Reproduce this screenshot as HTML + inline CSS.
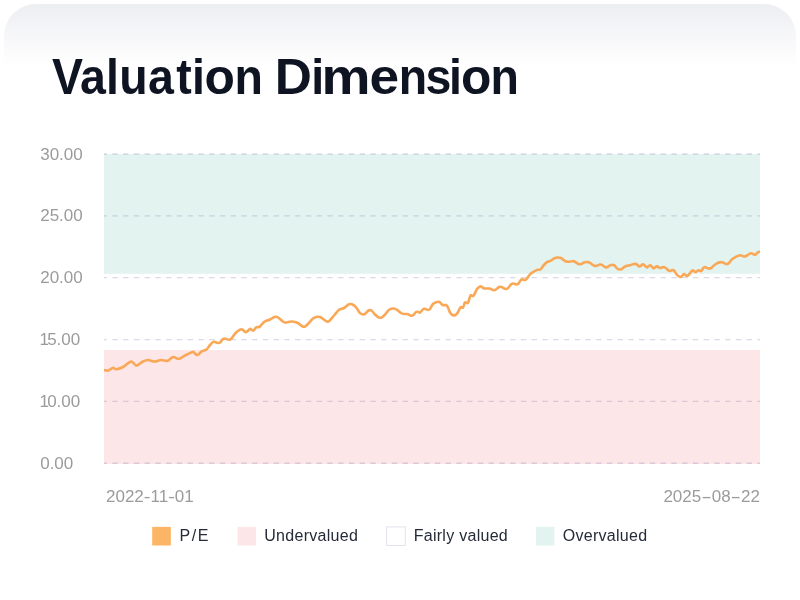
<!DOCTYPE html>
<html><head><meta charset="utf-8">
<title>Valuation Dimension</title>
<style>
html,body{margin:0;padding:0;background:#fff;}
body{width:800px;height:600px;overflow:hidden;position:relative;font-family:"Liberation Sans",sans-serif;}
.card{position:absolute;left:4px;top:4px;width:792px;height:596px;border-radius:32px 32px 0 0;background:linear-gradient(#edeef2 0px,#ffffff 62px);}
svg{position:absolute;left:0;top:0;}
.ttl{font-size:46.5px;font-weight:700;fill:#0f1422;}
.ax{font-size:17px;fill:#9b9b9b;}
.lg{font-size:16px;fill:#262b39;}
</style></head><body>
<div class="card"></div>
<svg width="800" height="600" viewBox="0 0 800 600">
<defs><clipPath id="plot"><rect x="104" y="140" width="656" height="340"/></clipPath></defs>
<rect x="104" y="154" width="656" height="119.8" fill="#e3f3ef"/>
<rect x="104" y="350" width="656" height="114" fill="#fde6e8"/>
<g stroke="#7f7fae" stroke-opacity="0.28" stroke-width="1.3" stroke-dasharray="5.4 5.35" clip-path="url(#plot)">
<line x1="101.6" x2="760" y1="154.00" y2="154.00"/>
<line x1="101.6" x2="760" y1="215.85" y2="215.85"/>
<line x1="101.6" x2="760" y1="277.70" y2="277.70"/>
<line x1="101.6" x2="760" y1="339.55" y2="339.55"/>
<line x1="101.6" x2="760" y1="401.40" y2="401.40"/>
<line x1="101.6" x2="760" y1="463.25" y2="463.25"/>
</g>
<path clip-path="url(#plot)" d="M104.0 370.0 C104.8 370.1 107.0 370.9 108.5 370.5 C110.0 370.1 111.8 368.0 113.0 367.8 C114.2 367.6 114.3 369.3 116.0 369.2 C117.7 369.1 120.7 368.2 123.0 367.0 C125.3 365.8 128.4 362.6 130.0 361.8 C131.6 361.0 131.6 361.6 132.5 362.2 C133.4 362.8 134.7 364.7 135.5 365.2 C136.3 365.7 136.2 365.8 137.5 365.2 C138.8 364.6 141.2 362.4 143.0 361.5 C144.8 360.6 146.1 360.0 148.0 360.0 C149.9 360.0 152.3 361.5 154.5 361.5 C156.7 361.5 159.0 360.1 161.0 360.0 C163.0 359.9 165.2 361.0 166.5 361.0 C167.8 361.0 168.0 360.6 169.0 360.0 C170.0 359.4 171.6 357.7 172.5 357.2 C173.4 356.7 173.4 356.9 174.5 357.2 C175.6 357.5 177.2 359.1 179.0 358.8 C180.8 358.5 182.8 356.6 185.0 355.5 C187.2 354.4 191.0 352.5 192.5 352.0 C194.0 351.5 193.3 352.0 194.0 352.5 C194.7 353.0 195.8 354.5 196.5 354.8 C197.2 355.1 197.6 355.1 198.5 354.5 C199.4 353.9 200.7 352.0 202.0 351.2 C203.3 350.4 205.2 350.5 206.5 349.5 C207.8 348.5 208.9 346.2 210.0 345.0 C211.1 343.8 212.2 342.5 213.0 342.0 C213.8 341.5 214.1 341.8 215.0 342.0 C215.9 342.2 217.6 343.0 218.5 343.0 C219.4 343.0 219.8 342.9 220.5 342.2 C221.2 341.5 222.2 339.6 223.0 339.0 C223.8 338.4 224.0 338.4 225.0 338.5 C226.0 338.6 227.9 339.8 229.0 339.8 C230.1 339.8 230.4 339.6 231.5 338.5 C232.6 337.4 234.1 334.5 235.5 333.0 C236.9 331.5 238.9 330.2 240.0 329.6 C241.1 329.0 241.1 329.1 242.0 329.5 C242.9 329.9 244.7 331.6 245.5 332.0 C246.3 332.4 246.2 332.1 247.0 331.6 C247.8 331.1 249.3 329.4 250.0 329.0 C250.7 328.6 250.6 328.9 251.0 329.2 C251.4 329.4 252.0 330.4 252.5 330.5 C253.0 330.6 253.3 330.6 254.0 330.0 C254.7 329.4 255.6 327.7 256.5 327.2 C257.4 326.7 258.3 327.6 259.5 326.8 C260.7 326.0 262.3 323.5 263.5 322.5 C264.7 321.5 265.4 321.3 266.5 320.8 C267.6 320.3 268.8 320.1 270.0 319.5 C271.2 318.9 272.8 317.6 274.0 317.2 C275.2 316.8 275.9 316.4 277.5 317.2 C279.1 318.0 282.0 321.1 283.5 322.0 C285.0 322.9 285.2 322.6 286.5 322.5 C287.8 322.4 289.4 321.6 291.0 321.5 C292.6 321.4 294.7 321.8 296.0 322.2 C297.3 322.6 297.9 323.1 299.0 323.8 C300.1 324.5 301.5 326.1 302.5 326.5 C303.5 326.9 304.1 326.9 305.0 326.5 C305.9 326.1 306.7 325.3 308.0 324.0 C309.3 322.7 311.5 319.7 313.0 318.5 C314.5 317.3 315.8 317.1 317.0 316.8 C318.2 316.6 319.2 316.8 320.0 317.0 C320.8 317.2 320.9 317.5 322.0 318.2 C323.1 318.9 325.3 320.7 326.5 321.2 C327.7 321.7 327.8 322.1 329.0 321.2 C330.2 320.2 332.3 317.4 334.0 315.5 C335.7 313.6 337.3 311.1 339.0 309.8 C340.7 308.6 342.4 308.9 344.0 308.0 C345.6 307.1 347.2 305.1 348.5 304.5 C349.8 303.9 350.7 303.8 352.0 304.3 C353.3 304.9 355.2 306.3 356.5 307.8 C357.8 309.3 358.9 312.1 360.0 313.2 C361.1 314.3 362.1 314.4 363.0 314.5 C363.9 314.6 364.6 314.2 365.5 313.5 C366.4 312.8 367.5 311.0 368.5 310.5 C369.5 310.0 370.4 309.8 371.5 310.5 C372.6 311.2 373.8 313.3 375.0 314.5 C376.2 315.7 377.8 317.0 379.0 317.5 C380.2 318.0 380.8 318.0 382.0 317.3 C383.2 316.6 384.8 314.6 386.0 313.3 C387.2 312.0 388.2 310.3 389.5 309.5 C390.8 308.7 392.2 308.4 393.5 308.5 C394.8 308.6 395.8 309.1 397.0 309.8 C398.2 310.6 399.8 312.3 401.0 313.0 C402.2 313.7 403.3 313.8 404.5 314.0 C405.7 314.2 406.9 313.9 408.0 314.2 C409.1 314.5 410.1 315.7 411.0 315.8 C411.9 315.9 412.7 315.6 413.5 315.0 C414.3 314.4 415.2 312.5 416.0 312.0 C416.8 311.5 417.3 311.7 418.0 311.8 C418.7 311.9 419.2 312.9 420.0 312.5 C420.8 312.1 422.2 309.8 423.0 309.2 C423.8 308.6 424.2 308.7 425.0 308.8 C425.8 308.9 427.2 310.0 428.0 310.0 C428.8 310.0 429.2 310.0 430.0 309.0 C430.8 308.0 431.8 305.2 433.0 304.0 C434.2 302.8 435.9 302.3 437.0 302.0 C438.1 301.7 438.5 301.5 439.5 302.0 C440.5 302.5 441.9 304.7 443.0 305.2 C444.1 305.7 445.2 304.6 446.0 305.0 C446.8 305.4 447.3 306.2 448.0 307.5 C448.7 308.8 449.2 311.2 450.0 312.5 C450.8 313.8 451.7 314.6 452.5 315.0 C453.3 315.4 454.2 315.5 455.0 315.2 C455.8 314.9 456.6 314.3 457.5 313.0 C458.4 311.7 459.6 308.2 460.5 307.3 C461.4 306.4 462.2 308.3 463.0 307.5 C463.8 306.7 464.2 303.3 465.0 302.5 C465.8 301.7 467.1 304.0 468.0 302.8 C468.9 301.6 469.6 296.7 470.5 295.5 C471.4 294.3 472.4 296.9 473.5 295.8 C474.6 294.7 475.9 290.6 477.0 289.0 C478.1 287.4 479.2 286.9 480.0 286.5 C480.8 286.1 480.8 286.5 481.5 286.8 C482.2 287.1 483.2 288.2 484.5 288.5 C485.8 288.8 488.1 288.2 489.5 288.5 C490.9 288.8 492.0 289.8 493.0 290.0 C494.0 290.2 494.5 290.3 495.5 289.8 C496.5 289.3 498.0 287.5 499.0 287.0 C500.0 286.5 500.5 286.7 501.5 287.0 C502.5 287.3 504.0 288.6 505.0 288.8 C506.0 289.1 506.5 289.2 507.5 288.5 C508.5 287.8 510.0 285.3 511.0 284.5 C512.0 283.7 512.6 283.5 513.5 283.5 C514.4 283.5 515.7 284.5 516.5 284.5 C517.3 284.5 517.7 284.3 518.5 283.5 C519.3 282.7 520.4 280.1 521.5 279.5 C522.6 278.9 524.1 280.3 525.0 280.1 C525.9 279.9 526.2 279.5 527.0 278.5 C527.8 277.5 528.8 275.5 530.0 274.3 C531.2 273.1 532.8 272.2 534.0 271.5 C535.2 270.8 536.4 270.1 537.5 269.8 C538.6 269.5 539.5 270.2 540.5 269.5 C541.5 268.8 542.4 266.7 543.5 265.5 C544.6 264.3 545.8 263.0 547.0 262.2 C548.2 261.4 549.8 261.2 551.0 260.5 C552.2 259.8 553.4 258.7 554.5 258.2 C555.6 257.7 556.4 257.5 557.5 257.5 C558.6 257.5 559.8 257.4 561.0 258.0 C562.2 258.6 563.8 260.4 565.0 261.0 C566.2 261.6 567.3 261.8 568.5 261.8 C569.7 261.8 571.0 261.2 572.0 261.2 C573.0 261.1 573.5 261.1 574.5 261.5 C575.5 261.9 577.0 263.4 578.0 263.8 C579.0 264.2 579.5 264.4 580.5 264.2 C581.5 264.0 582.9 262.9 584.0 262.5 C585.1 262.1 586.0 261.9 587.0 262.0 C588.0 262.1 588.9 262.3 590.0 262.9 C591.1 263.4 592.5 264.8 593.5 265.3 C594.5 265.8 594.9 266.1 596.0 266.0 C597.1 265.9 599.0 264.7 600.0 264.5 C601.0 264.3 601.2 264.4 602.0 264.8 C602.8 265.2 604.2 266.6 605.0 267.0 C605.8 267.4 606.1 267.5 607.0 267.2 C607.9 266.9 609.3 265.5 610.5 265.2 C611.7 264.9 612.8 264.6 614.0 265.2 C615.2 265.8 616.5 268.1 617.5 268.8 C618.5 269.5 619.2 269.5 620.0 269.5 C620.8 269.5 621.2 269.3 622.0 268.8 C622.8 268.3 623.7 267.1 625.0 266.5 C626.3 265.9 628.5 265.6 630.0 265.2 C631.5 264.8 632.9 264.2 634.0 264.0 C635.1 263.8 635.6 263.8 636.5 264.2 C637.4 264.6 638.5 266.4 639.5 266.5 C640.5 266.6 641.8 264.8 642.5 264.5 C643.2 264.2 643.3 264.4 644.0 264.8 C644.7 265.2 645.9 266.8 646.5 267.2 C647.1 267.6 646.9 267.5 647.5 267.2 C648.1 266.9 649.1 265.1 650.0 265.2 C650.9 265.3 652.3 267.5 653.0 268.0 C653.7 268.5 653.4 268.4 654.0 268.2 C654.6 267.9 655.9 266.8 656.5 266.5 C657.1 266.2 656.9 266.2 657.5 266.5 C658.1 266.8 659.0 267.9 660.0 268.0 C661.0 268.1 662.6 267.0 663.5 267.0 C664.4 267.0 664.5 267.1 665.5 267.8 C666.5 268.5 668.3 270.6 669.5 271.0 C670.7 271.4 671.8 270.1 672.5 270.0 C673.2 269.9 673.2 269.7 674.0 270.5 C674.8 271.3 676.0 273.8 677.0 274.8 C678.0 275.9 679.2 276.5 680.0 276.8 C680.8 277.1 680.8 277.0 681.5 276.5 C682.2 276.0 683.2 274.1 684.0 274.0 C684.8 273.9 685.8 275.6 686.5 275.8 C687.2 276.1 687.1 276.3 688.0 275.5 C688.9 274.7 691.1 271.6 692.0 270.8 C692.9 270.0 692.9 270.6 693.5 270.8 C694.1 271.0 694.7 272.3 695.5 272.2 C696.3 272.1 697.6 270.4 698.5 270.2 C699.4 270.0 700.2 271.6 701.0 271.2 C701.8 270.8 702.8 268.5 703.5 267.8 C704.2 267.1 704.7 267.1 705.5 267.2 C706.3 267.3 707.6 268.3 708.5 268.5 C709.4 268.7 710.0 268.8 711.0 268.2 C712.0 267.6 713.3 265.9 714.5 265.0 C715.7 264.1 716.8 263.3 718.0 262.8 C719.2 262.3 720.9 262.1 722.0 262.2 C723.1 262.3 723.7 262.9 724.5 263.2 C725.3 263.5 726.2 264.2 727.0 264.2 C727.8 264.2 728.2 263.7 729.0 263.0 C729.8 262.3 730.5 260.8 731.5 259.8 C732.5 258.9 733.6 258.1 735.0 257.3 C736.4 256.6 738.5 255.4 740.0 255.3 C741.5 255.2 742.8 256.5 744.0 256.5 C745.2 256.5 745.8 256.1 747.0 255.5 C748.2 254.9 749.8 253.3 751.0 253.2 C752.2 253.1 753.7 254.6 754.5 254.8 C755.3 255.0 755.4 254.6 756.0 254.2 C756.6 253.8 757.3 252.6 758.0 252.2 C758.7 251.8 759.7 251.9 760.0 251.8" fill="none" stroke="#f9a857" stroke-width="2.6" stroke-linejoin="round" stroke-linecap="round"/>
<text class="ttl" aria-label="Valuation Dimension" font-family="Liberation Sans, sans-serif" transform="translate(0,94.3) scale(1,1.08)" y="0" x="52.0 80.0 106.1 119.3 148.0 176.2 192.0 204.6 234.6 263.1 274.7 311.2 321.5 369.4 398.7 425.5 449.1 461.0 490.5">Valuati<tspan textLength="30.40" lengthAdjust="spacingAndGlyphs">o</tspan>n <tspan textLength="37.17" lengthAdjust="spacingAndGlyphs">D</tspan>i<tspan textLength="49.03" lengthAdjust="spacingAndGlyphs">m</tspan><tspan textLength="29.60" lengthAdjust="spacingAndGlyphs">e</tspan>nsi<tspan textLength="30.40" lengthAdjust="spacingAndGlyphs">o</tspan>n</text>
<g class="ax" font-family="Liberation Sans, sans-serif">
<text x="40.2" y="159.6">30.00</text>
<text x="40.2" y="221.4">25.00</text>
<text x="40.2" y="283.3">20.00</text>
<text x="39.6" y="345.2" aria-label="15.00">1<tspan dx="-1.9">5.00</tspan></text>
<text x="39.6" y="407.0" aria-label="10.00">1<tspan dx="-1.9">0.00</tspan></text>
<text x="40.2" y="468.9">0.00</text>
<text x="106" y="501.6" aria-label="2022-11-01">2022<tspan textLength="6.66" lengthAdjust="spacingAndGlyphs">-</tspan>11<tspan textLength="6.66" lengthAdjust="spacingAndGlyphs">-</tspan>01</text>
<text x="760" y="501.6" text-anchor="end" aria-label="2025-08-22">2025<tspan textLength="10.46" lengthAdjust="spacingAndGlyphs">-</tspan>08<tspan textLength="10.46" lengthAdjust="spacingAndGlyphs">-</tspan>22</text>
</g>
<rect x="152.2" y="526.9" width="18.6" height="18.6" fill="#fbb564"/>
<rect x="237.6" y="526.9" width="18.5" height="18.6" fill="#fde6e8"/>
<rect x="386.6" y="526.9" width="18.7" height="18.6" fill="#fff" stroke="#e2e3ef" stroke-width="1"/>
<rect x="536" y="526.9" width="18.4" height="18.6" fill="#e3f3ef"/>
<g class="lg" font-family="Liberation Sans, sans-serif">
<text x="179.6" y="541" style="letter-spacing:1.55px">P/E</text>
<text x="264.2" y="541" style="letter-spacing:.3px">Undervalued</text>
<text x="413.7" y="541" style="letter-spacing:.28px">Fairly valued</text>
<text x="562.8" y="541" style="letter-spacing:.27px">Overvalued</text>
</g>
</svg>
</body></html>
